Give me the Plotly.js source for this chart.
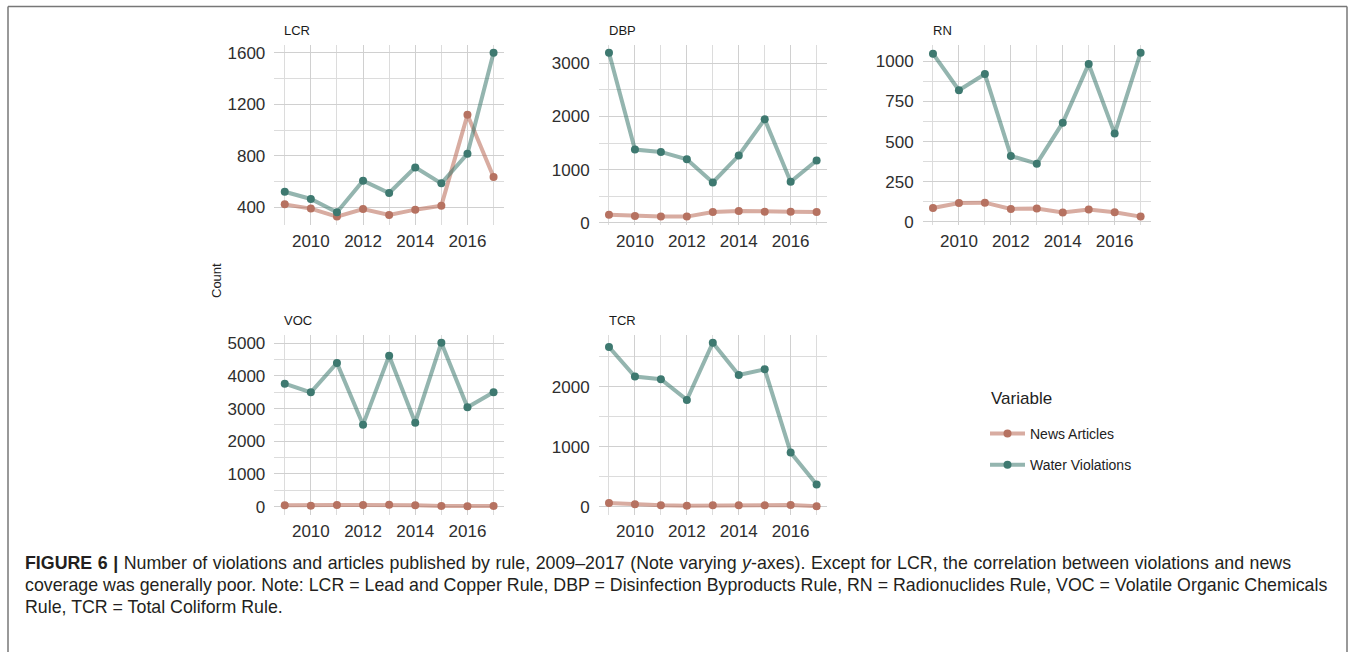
<!DOCTYPE html>
<html>
<head>
<meta charset="utf-8">
<script src="https://cdn.plot.ly/plotly-3.0.1.min.js"></script>
<style>
  html, body { margin: 0; padding: 0; background: #ffffff; }
  #chart { width: 1356px; height: 652px; }
</style>
</head>
<body>
<div id="chart"></div>
<script>
// Yearly counts per drinking-water rule, 2009-2017
const years = [2009, 2010, 2011, 2012, 2013, 2014, 2015, 2016, 2017];

const lcrNews  = [423, 390, 328, 387, 341, 382, 413, 1119, 635];
const lcrWater = [521, 465, 361, 607, 511, 710, 586, 816, 1600];

const dbpNews  = [156, 131, 119, 119, 206, 225, 212, 212, 206];
const dbpWater = [3200, 1379, 1335, 1198, 761, 1267, 1947, 774, 1173];

const rnNews   = [87, 118, 120, 81, 83, 58, 77, 60, 33];
const rnWater  = [1048, 820, 921, 411, 363, 618, 984, 550, 1054];

const vocNews  = [41, 31, 51, 51, 61, 41, 20, 10, 20];
const vocWater = [3764, 3499, 4396, 2509, 4621, 2570, 5018, 3040, 3499];

const tcrNews  = [61, 39, 22, 17, 22, 22, 22, 28, 6];
const tcrWater = [2659, 2166, 2122, 1778, 2731, 2194, 2288, 903, 371];

const panelNames  = ['LCR', 'DBP', 'RN', 'VOC', 'TCR'];
const seriesNames = ['News Articles', 'Water Violations'];
const yAxisLabel  = 'Count';
const legendTitle = 'Variable';
const xTickLabels = ['2010', '2012', '2014', '2016'];
const yTickStep   = [400, 1000, 250, 1000, 1000];

const captionLines = [
  '<b>FIGURE 6 |</b> Number of violations and articles published by rule, 2009\u20132017 (Note varying <i>y</i>-axes). Except for LCR, the correlation between violations and news',
  'coverage was generally poor. Note: LCR = Lead and Copper Rule, DBP = Disinfection Byproducts Rule, RN = Radionuclides Rule, VOC = Volatile Organic Chemicals',
  'Rule, TCR = Total Coliform Rule.'
];
// slight extra gap between words on the first caption line
const captionWordSpacing = [0.6, 0, 0];

// ---- layout geometry (pixels in a 1356 x 652 page) ----
const W = 1356, H = 652;
const colPx = [[274.3, 504.0], [598.6, 827.0], [922.6, 1151.0]];
const rowPx = [[44.5, 224.8], [334.5, 514.5]];
const cells = [[0, 0], [0, 1], [0, 2], [1, 0], [1, 1]]; // [row, col] of each panel
const px2x = p => p / W;
const px2y = p => 1 - p / H;

const FONT = '"Liberation Sans", Arial, Helvetica, sans-serif';
const newsLine   = 'rgba(184,104,84,0.55)';
const newsMark   = 'rgb(182,114,97)';
const waterLine  = 'rgba(60,120,110,0.55)';
const waterMark  = 'rgb(62,121,112)';

const panelData = [
  [lcrNews, lcrWater], [dbpNews, dbpWater], [rnNews, rnWater],
  [vocNews, vocWater], [tcrNews, tcrWater]
];

// 5% padding on each side of the data range, as in a ggplot continuous scale
function padded(vals) {
  const lo = Math.min(...vals), hi = Math.max(...vals);
  const d = (hi - lo) * 0.05;
  return [lo - d, hi + d];
}
const xPad = (years[years.length - 1] - years[0]) * 0.05;
const xRange = [years[0] - xPad, years[years.length - 1] + xPad];

const traces = [];
const layout = {
  width: W, height: H,
  margin: { l: 0, r: 0, t: 0, b: 0 },
  paper_bgcolor: '#ffffff',
  plot_bgcolor: '#ffffff',
  font: { family: FONT, color: '#222222' },
  showlegend: true,
  legend: {
    x: px2x(985), y: px2y(418), xanchor: 'left', yanchor: 'top',
    font: { size: 14, color: '#222222', family: FONT },
    itemwidth: 35,
    tracegroupgap: 10,
    bgcolor: 'rgba(0,0,0,0)', borderwidth: 0
  },
  annotations: [],
  shapes: []
};

panelData.forEach((pair, i) => {
  const [row, col] = cells[i];
  const sfx = i === 0 ? '' : String(i + 1);
  const xa = 'x' + sfx, ya = 'y' + sfx;

  pair.forEach((vals, s) => {
    const isNews = s === 0;
    traces.push({
      type: 'scatter', mode: 'lines+markers',
      x: years, y: vals, xaxis: xa, yaxis: ya,
      name: seriesNames[s],
      legendgroup: isNews ? 'news' : 'water',
      showlegend: i === 0,
      line: { color: isNews ? newsLine : waterLine, width: 4 },
      marker: { color: isNews ? newsMark : waterMark, size: 8 },
      hoverinfo: 'x+y+name'
    });
  });

  const step = yTickStep[i];
  layout['xaxis' + sfx] = {
    domain: [px2x(colPx[col][0]), px2x(colPx[col][1])],
    anchor: ya,
    range: xRange,
    tickmode: 'array',
    tickvals: xTickLabels.map(Number),
    ticktext: xTickLabels,
    ticks: '',
    showline: false, zeroline: false,
    showgrid: true, gridcolor: '#d0d0d0', gridwidth: 1,
    minor: { tickmode: 'array', tickvals: years, showgrid: true, gridcolor: '#dcdcdc', gridwidth: 1 },
    tickfont: { size: 17, color: '#2e2e2e', family: FONT },
    ticklabelstandoff: 4,
    fixedrange: true
  };
  layout['yaxis' + sfx] = {
    domain: [px2y(rowPx[row][1]), px2y(rowPx[row][0])],
    anchor: xa,
    range: padded(pair[0].concat(pair[1])),
    tick0: 0, dtick: step,
    ticks: '',
    showline: false, zeroline: false,
    showgrid: true, gridcolor: '#d0d0d0', gridwidth: 1,
    minor: { dtick: step / 2, showgrid: true, gridcolor: '#dcdcdc', gridwidth: 1 },
    tickfont: { size: 17, color: '#2e2e2e', family: FONT },
    ticklabelstandoff: 8,
    fixedrange: true
  };

  // facet title, left aligned above each panel
  layout.annotations.push({
    xref: 'paper', yref: 'paper',
    x: px2x(colPx[col][0] + 8), y: px2y(rowPx[row][0] - 14),
    xanchor: 'left', yanchor: 'middle',
    text: panelNames[i], showarrow: false,
    font: { size: 13, color: '#1a1a1a', family: FONT }
  });
});

// shared y axis label
layout.annotations.push({
  xref: 'paper', yref: 'paper',
  x: px2x(216), y: px2y(281),
  xanchor: 'center', yanchor: 'middle',
  text: yAxisLabel, textangle: -90, showarrow: false,
  font: { size: 13, color: '#222222', family: FONT }
});

// legend heading
layout.annotations.push({
  xref: 'paper', yref: 'paper',
  x: px2x(989), y: px2y(398),
  xanchor: 'left', yanchor: 'middle',
  text: legendTitle, showarrow: false,
  font: { size: 17, color: '#222222', family: FONT }
});

// figure caption
const captionY = [563, 585, 607];
const captionStart = layout.annotations.length;
captionLines.forEach((t, k) => {
  layout.annotations.push({
    xref: 'paper', yref: 'paper',
    x: px2x(23), y: px2y(captionY[k]),
    xanchor: 'left', yanchor: 'middle',
    text: t, showarrow: false, align: 'left',
    font: { size: 17.8, color: '#231f20', family: FONT }
  });
});

// frame around the figure
const frame = { type: 'line', xref: 'paper', yref: 'paper', line: { color: '#777777', width: 1.5 } };
layout.shapes.push(Object.assign({}, frame, { x0: px2x(8), x1: px2x(1347), y0: px2y(6.5), y1: px2y(6.5) }));
layout.shapes.push(Object.assign({}, frame, { x0: px2x(8), x1: px2x(8), y0: px2y(6.5), y1: 0 }));
layout.shapes.push(Object.assign({}, frame, { x0: px2x(1347), x1: px2x(1347), y0: px2y(6.5), y1: 0 }));

Plotly.newPlot('chart', traces, layout, { displayModeBar: false, staticPlot: true }).then(gd => {
  captionWordSpacing.forEach((ws, k) => {
    if (!ws) return;
    const t = gd.querySelector('g.annotation[data-index="' + (captionStart + k) + '"] text.annotation-text');
    if (t) t.style.wordSpacing = ws + 'px';
  });
});
</script>
</body>
</html>
